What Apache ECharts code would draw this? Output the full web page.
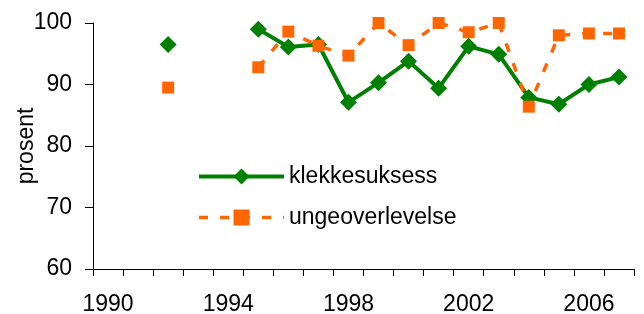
<!DOCTYPE html>
<html>
<head>
<meta charset="UTF-8">
<title>klekkesuksess</title>
<script src="https://cdn.jsdelivr.net/npm/echarts@6/dist/echarts.min.js"></script>
<style>
  html, body { margin: 0; padding: 0; background: #fff; }
  #chart { width: 644px; height: 314px; }
</style>
</head>
<body>
<div id="chart"></div>
<script>
var years = ['1990','1991','1992','1993','1994','1995','1996','1997','1998','1999',
             '2000','2001','2002','2003','2004','2005','2006','2007'];
var klekkesuksess = [null, null, 96.5, null, null, 99.0, 96.1, 96.5, 87.1, 90.3,
                     93.8, 89.4, 96.2, 94.9, 87.9, 86.8, 90.0, 91.2];
var ungeoverlevelse = [null, null, 89.5, null, null, 92.8, 98.6, 96.3, 94.7, 100,
                       96.4, 100, 98.5, 100, 86.4, 98.0, 98.3, 98.3];

var font = 'Liberation Sans, Arial, sans-serif';
var chart = echarts.init(document.getElementById('chart'));
chart.setOption({
    backgroundColor: '#fff',
    animation: false,
    grid: { left: 93, right: 10, top: 23, bottom: 45, outerBoundsMode: 'none' },
    legend: {
        orient: 'vertical',
        left: 192,
        top: 160,
        itemWidth: 85,
        itemHeight: 20,
        itemGap: 18,
        textStyle: { fontFamily: font, fontSize: 23, color: '#000' },
        data: [
            { name: 'klekkesuksess', lineStyle: { width: 4 } },
            { name: 'ungeoverlevelse', lineStyle: { width: 3.5 } }
        ]
    },
    xAxis: {
        type: 'category',
        data: years,
        boundaryGap: true,
        axisLine: { lineStyle: { color: '#000', width: 1 } },
        axisTick: { show: true, interval: 0, length: 7, lineStyle: { color: '#000' } },
        axisLabel: { interval: 3, margin: 24, fontFamily: font, fontSize: 23, color: '#000' },
        splitLine: { show: false }
    },
    yAxis: {
        type: 'value',
        min: 60,
        max: 100,
        interval: 10,
        name: 'prosent',
        nameLocation: 'middle',
        nameGap: 55,
        nameRotate: 90,
        nameMoveOverlap: false,
        nameTextStyle: { fontFamily: font, fontSize: 23, color: '#000' },
        axisLine: { show: true, lineStyle: { color: '#000', width: 1 } },
        axisTick: { show: true, length: 8, lineStyle: { color: '#000' } },
        axisLabel: { margin: 21, fontFamily: font, fontSize: 23, color: '#000' },
        splitLine: { show: false }
    },
    series: [{
        name: 'klekkesuksess',
        type: 'line',
        data: klekkesuksess,
        clip: false,
        symbol: 'diamond',
        symbolSize: 17,
        itemStyle: { color: '#008000' },
        lineStyle: { color: '#008000', width: 4 }
    }, {
        name: 'ungeoverlevelse',
        type: 'line',
        data: ungeoverlevelse,
        clip: false,
        symbol: 'rect',
        symbolSize: 12,
        itemStyle: { color: '#ff6600' },
        lineStyle: { color: '#ff6600', width: 3.5, type: [9, 12] }
    }]
});
</script>
</body>
</html>
